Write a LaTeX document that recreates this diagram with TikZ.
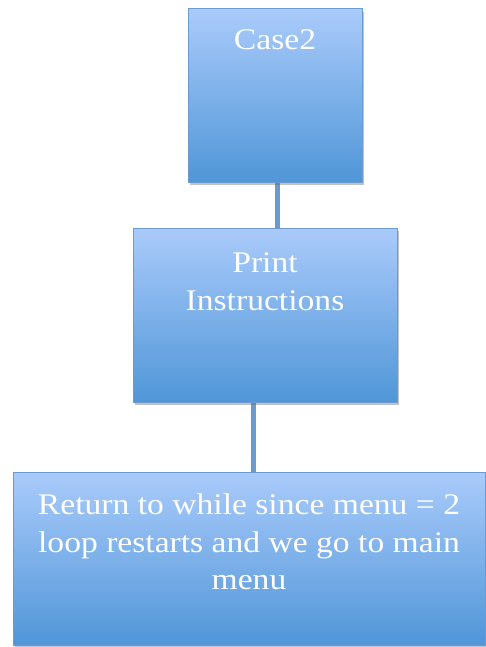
\documentclass[tikz,border=0pt]{standalone}
\usepackage{fontspec}
\setmainfont{Liberation Serif}[FakeStretch=1.12]
\usetikzlibrary{shadows,backgrounds}
\definecolor{boxtop}{HTML}{AACBFB}
\definecolor{boxbot}{HTML}{5096D8}
\definecolor{boxedge}{HTML}{6C9BD2}
\definecolor{linkcol}{HTML}{6A9BD0}
\tikzset{
  box/.style={rectangle, draw=boxedge, line width=1pt, top color=boxtop, bottom color=boxbot,
    inner sep=0pt, drop shadow={shadow xshift=1.5pt, shadow yshift=-3pt, opacity=0.4, fill=black!60}},
  lbl/.style={text=white, font=\fontsize{30}{37.5}\selectfont, align=center, anchor=north, inner sep=0pt},
  link/.style={draw=linkcol, line width=5pt},
}
\begin{document}
\begin{tikzpicture}[x=1pt,y=-1pt]
\useasboundingbox (0,0) rectangle (486,647);
\node[box, minimum width=174pt, minimum height=173pt] (b1) at (275,95.5) {};
\node[box, minimum width=264pt, minimum height=174pt] (b2) at (265,315) {};
\node[box, minimum width=472pt, minimum height=173pt] (b3) at (249,558.5) {};
\node[lbl] (t1) at ([yshift=-21pt]b1.north) {Case2};
\node[lbl] (t2) at ([yshift=-25pt]b2.north) {Print\\Instructions};
\node[lbl] (t3) at ([yshift=-22pt]b3.north) {Return to while since menu = 2\\loop restarts and we go to main\\menu};
\begin{scope}[on background layer]
\draw[link] ([xshift=2pt]b1.south) -- ([xshift=2pt]b1.south |- b2.north);
\draw[link] ([xshift=-12pt]b2.south) -- ([xshift=-12pt]b2.south |- b3.north);
\end{scope}
\end{tikzpicture}
\end{document}
